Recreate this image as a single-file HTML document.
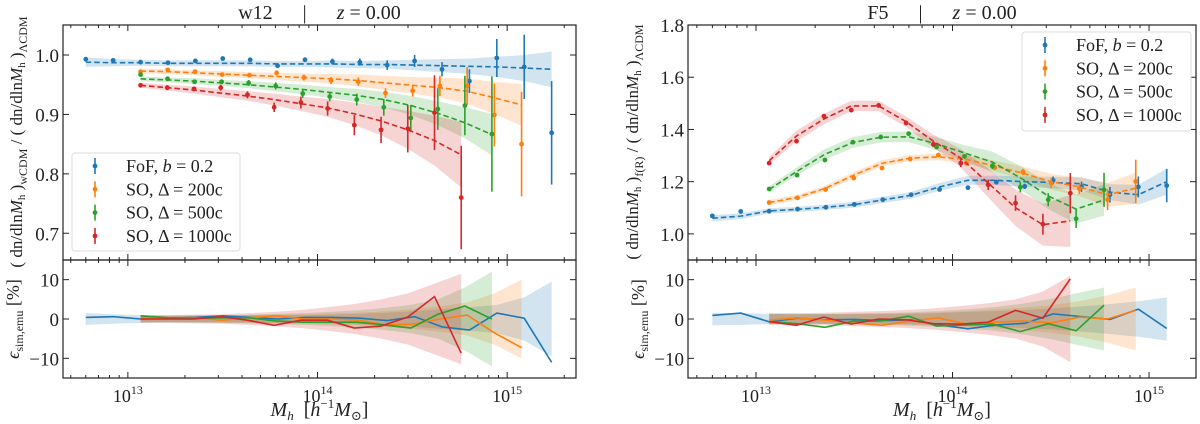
<!DOCTYPE html>
<html><head><meta charset="utf-8"><style>
html,body{margin:0;padding:0;background:#fff;}
svg{display:block;font-family:"Liberation Serif","DejaVu Serif",serif;}
</style></head><body>
<svg id="chart" width="1200" height="424" viewBox="0 0 1200 424" xmlns="http://www.w3.org/2000/svg"></svg>
<script>
// ---- shared mass bins (log10 M) ----
const binLog0 = 12.778;
const binStep = 0.1445;

// ---- w12 panel data ----
const w12_fof_start = 0;
const w12_fof_step = 0.1445;
const w12_fof_pts = [0.993,0.991,0.988,0.987,0.990,0.994,0.992,0.982,0.992,0.989,0.988,0.983,0.990,0.976,0.956,0.995,0.980,0.869];
const w12_fof_err = [0.003,0.003,0.003,0.003,0.003,0.003,0.003,0.004,0.004,0.005,0.006,0.008,0.010,0.012,0.020,0.032,0.054,0.087];
const w12_fof_emu = [0.988,0.987,0.987,0.986,0.986,0.986,0.986,0.985,0.985,0.985,0.984,0.984,0.983,0.982,0.981,0.980,0.978,0.976];
const w12_fof_band = [0.008,0.006,0.005,0.005,0.005,0.005,0.005,0.005,0.005,0.006,0.006,0.007,0.009,0.011,0.013,0.017,0.022,0.030];
const w12_fof_res = [0.4,0.6,0,0.2,0.4,0.8,0.4,0,0.4,0.4,0.2,-0.4,0.6,-2,-2.8,1.5,0.2,-11];
const w12_fof_resband = [1.5,1.2,1,0.9,0.9,0.9,0.9,1,1,1.1,1.3,1.6,2,2.5,3,3.6,5.5,9.5];

const w12_so200_start = 2;
const w12_so200_step = 0.1435;
const w12_so200_pts = [0.972,0.975,0.972,0.967,0.966,0.970,0.962,0.957,0.955,0.936,0.940,0.948,0.948,0.899,0.850];
const w12_so200_err = [0.003,0.003,0.003,0.003,0.003,0.004,0.005,0.006,0.007,0.008,0.010,0.017,0.032,0.053,0.088];
const w12_so200_emu = [0.973,0.972,0.970,0.968,0.966,0.964,0.962,0.960,0.957,0.953,0.949,0.945,0.939,0.928,0.916];
const w12_so200_band = [0.004,0.004,0.004,0.005,0.005,0.006,0.007,0.008,0.010,0.012,0.014,0.017,0.021,0.027,0.035];
const w12_so200_res = [0.3,0.3,0.3,-0.3,0.3,0.8,0,0,-0.3,-1.5,-1.3,0,1.0,-3.5,-7.3];
const w12_so200_resband = [0.8,0.8,0.8,0.9,1,1.1,1.2,1.4,1.6,2,2.5,3.2,4.2,6.5,10];

const w12_so500_start = 2;
const w12_so500_step = 0.1425;
const w12_so500_pts = [0.967,0.960,0.955,0.955,0.953,0.948,0.935,0.930,0.925,0.912,0.894,0.909,0.915,0.867];
const w12_so500_err = [0.003,0.003,0.003,0.004,0.005,0.006,0.007,0.008,0.010,0.014,0.022,0.035,0.050,0.097];
const w12_so500_emu = [0.960,0.958,0.956,0.953,0.950,0.946,0.942,0.937,0.932,0.925,0.915,0.902,0.886,0.866];
const w12_so500_band = [0.004,0.004,0.005,0.005,0.006,0.007,0.008,0.009,0.011,0.013,0.016,0.020,0.026,0.035];
const w12_so500_res = [0.8,0.3,0.2,0.3,0.3,-0.5,-0.8,-0.8,-0.8,-1.5,-2.3,1.2,3.3,0];
const w12_so500_resband = [0.8,0.8,0.9,1,1.1,1.3,1.5,1.8,2.2,2.8,3.6,5,8,12];

const w12_so1000_start = 2;
const w12_so1000_step = 0.1409;
const w12_so1000_pts = [0.949,0.945,0.943,0.945,0.933,0.912,0.920,0.910,0.882,0.874,0.876,0.903,0.760];
const w12_so1000_err = [0.003,0.004,0.004,0.005,0.006,0.008,0.010,0.012,0.017,0.022,0.040,0.063,0.087];
const w12_so1000_emu = [0.949,0.945,0.941,0.936,0.931,0.925,0.918,0.911,0.901,0.889,0.874,0.856,0.832];
const w12_so1000_band = [0.004,0.005,0.006,0.007,0.008,0.010,0.012,0.015,0.019,0.024,0.032,0.042,0.055];
const w12_so1000_res = [0,0,0,0.6,-0.3,-1.6,-0.3,-0.3,-2.3,-1.8,0.5,5.7,-8.7];
const w12_so1000_resband = [1,1,1.1,1.2,1.5,1.8,2.3,3,3.8,5,6.5,9,11.5];

// ---- F5 panel data ----
const f5_fof_start = 0;
const f5_fof_step = 0.1445;
const f5_fof_pts = [1.069,1.086,1.087,1.095,1.102,1.113,1.131,1.150,1.170,1.177,1.198,1.182,1.205,1.180,1.150,1.180,1.185];
const f5_fof_err = [0.005,0.005,0.005,0.005,0.005,0.005,0.006,0.006,0.007,0.008,0.009,0.010,0.015,0.020,0.030,0.040,0.064];
const f5_fof_emu = [1.060,1.068,1.088,1.094,1.102,1.112,1.130,1.148,1.180,1.205,1.205,1.200,1.197,1.192,1.160,1.150,1.200];
const f5_fof_band = [0.012,0.011,0.010,0.010,0.010,0.011,0.012,0.013,0.015,0.017,0.018,0.020,0.022,0.025,0.030,0.038,0.050];
const f5_fof_res = [0.9,1.5,-0.7,0.2,-0.2,-0.1,-0.4,-0.2,-1.5,-2.5,-1.5,-1.1,1.3,0.6,-0.1,2.5,-2.4];
const f5_fof_resband = [1.6,1.5,1.3,1.2,1.2,1.2,1.2,1.3,1.5,1.8,2,2.3,2.7,3.2,3.8,4.5,5.5];

const f5_so200_start = 2;
const f5_so200_step = 0.1435;
const f5_so200_pts = [1.120,1.138,1.170,1.214,1.252,1.287,1.302,1.270,1.254,1.237,1.195,1.173,1.131,1.201];
const f5_so200_err = [0.005,0.005,0.006,0.006,0.006,0.006,0.007,0.008,0.010,0.012,0.020,0.020,0.040,0.083];
const f5_so200_emu = [1.120,1.140,1.175,1.225,1.270,1.290,1.295,1.285,1.260,1.232,1.200,1.180,1.150,1.175];
const f5_so200_band = [0.010,0.010,0.010,0.012,0.012,0.012,0.013,0.015,0.020,0.025,0.030,0.035,0.045,0.060];
const f5_so200_res = [-0.3,0.3,-0.3,-1,-1.6,-0.5,0.3,-1.3,-0.8,-0.5,-1.0,0.5,0,2.2];
const f5_so200_resband = [1.2,1.2,1.2,1.3,1.4,1.5,1.7,2,2.4,2.9,3.5,4.5,6,8];

const f5_so500_start = 2;
const f5_so500_step = 0.142;
const f5_so500_pts = [1.172,1.225,1.283,1.351,1.371,1.384,1.333,1.297,1.260,1.179,1.131,1.058,1.169];
const f5_so500_err = [0.005,0.005,0.006,0.006,0.006,0.007,0.008,0.009,0.012,0.020,0.025,0.035,0.065];
const f5_so500_emu = [1.170,1.240,1.305,1.350,1.370,1.372,1.345,1.310,1.275,1.215,1.145,1.095,1.130];
const f5_so500_band = [0.012,0.015,0.020,0.020,0.020,0.020,0.025,0.030,0.040,0.045,0.050,0.055,0.060];
const f5_so500_res = [-0.7,-1.2,-2.1,-0.6,-0.5,0.7,-1.8,-1.5,-1.3,-3.2,-1.2,-3,3.5];
const f5_so500_resband = [1.3,1.3,1.3,1.4,1.5,1.7,2,2.4,3,3.8,5,6.5,8];

const f5_so1000_start = 2;
const f5_so1000_step = 0.1393;
const f5_so1000_pts = [1.271,1.355,1.451,1.474,1.492,1.425,1.343,1.271,1.188,1.118,1.037,1.156];
const f5_so1000_err = [0.005,0.006,0.006,0.006,0.007,0.008,0.010,0.015,0.020,0.030,0.040,0.077];
const f5_so1000_emu = [1.280,1.375,1.440,1.490,1.490,1.430,1.355,1.290,1.195,1.100,1.035,1.050];
const f5_so1000_band = [0.015,0.020,0.020,0.020,0.020,0.020,0.025,0.035,0.055,0.070,0.080,0.100];
const f5_so1000_res = [-0.7,-1.6,0.5,-1.3,0,-0.2,-1.2,-1.3,-0.8,2.2,0.2,10.2];
const f5_so1000_resband = [1.5,1.5,1.6,1.8,2,2.3,2.7,3.3,4,5,7,11];

const w12_yticks = [0.7,0.8,0.9,1.0];
const f5_yticks = [1.0,1.2,1.4,1.6,1.8];
const res_yticks = [-10,0,10];
const x_decades = [13,14,15];
const legend_labels = ["FoF, ", "SO, Δ = 200c", "SO, Δ = 500c", "SO, Δ = 1000c"];

const COLORS = ["#1f77b4","#ff7f0e","#2ca02c","#d62728"];
const NS = "http://www.w3.org/2000/svg";
const svg = document.getElementById("chart");

function mk(tag, attrs, parent){
  const e = document.createElementNS(NS, tag);
  for (const k in attrs) e.setAttribute(k, attrs[k]);
  (parent||svg).appendChild(e);
  return e;
}

function drawPanel(cfg){
  const g = mk("g", {});
  
  
  const xs = lg => cfg.x0 + (lg - cfg.lmin) / (cfg.lmax - cfg.lmin) * (cfg.x1 - cfg.x0);
  const ys = v => cfg.ySplit - (v - cfg.vmin) / (cfg.vmax - cfg.vmin) * (cfg.ySplit - cfg.yTop);
  const yr = v => cfg.yBot - (v + 15) / 30 * (cfg.yBot - cfg.ySplit);
  const sx = (s, k) => xs(binLog0 + binStep * s.start + s.step * k);

  const defs = mk("defs", {}, g);
  const cpT = mk("clipPath", {id: cfg.name+"-clipT"}, defs);
  mk("rect", {x: cfg.x0, y: cfg.yTop, width: cfg.x1-cfg.x0, height: cfg.ySplit-cfg.yTop}, cpT);
  const cpB = mk("clipPath", {id: cfg.name+"-clipB"}, defs);
  mk("rect", {x: cfg.x0, y: cfg.ySplit, width: cfg.x1-cfg.x0, height: cfg.yBot-cfg.ySplit}, cpB);
  const top = mk("g", {"clip-path": "url(#"+cfg.name+"-clipT)"}, g);
  const bot = mk("g", {"clip-path": "url(#"+cfg.name+"-clipB)"}, g);

  cfg.series.forEach((s, si) => {
    const c = COLORS[si];
    let up = [], dn = [];
    s.emu.forEach((v, k) => { const x = sx(s,k); up.push(x+","+ys(v + s.band[k])); dn.unshift(x+","+ys(v - s.band[k])); });
    const band = mk("polygon", {points: up.concat(dn).join(" "), fill: c, "fill-opacity": 0.2, stroke: "none"}, top);
    
    
    let ru = [], rd = [];
    s.resband.forEach((v, k) => { const x = sx(s,k); ru.push(x+","+yr(v)); rd.unshift(x+","+yr(-v)); });
    const rb = mk("polygon", {points: ru.concat(rd).join(" "), fill: c, "fill-opacity": 0.2, stroke: "none"}, bot);
    
    
  });
  cfg.series.forEach((s, si) => {
    const c = COLORS[si];
    const line = mk("polyline", {points: s.emu.map((v,k)=>sx(s,k)+","+ys(v)).join(" "), fill: "none", stroke: c, "stroke-width": 1.6, "stroke-dasharray": "5.5,3"}, top);
    
    
    s.pts.forEach((v, k) => {
      const x = sx(s,k);
      const eb = mk("line", {x1: x, x2: x, y1: ys(v - s.err[k]), y2: ys(v + s.err[k]), stroke: c, "stroke-width": 1.6}, top);
      
      
      const pt = mk("circle", {cx: x, cy: ys(v), r: 2.4, fill: c}, top);
      
      
    });
    const rl = mk("polyline", {points: s.res.map((v,k)=>sx(s,k)+","+yr(v)).join(" "), fill: "none", stroke: c, "stroke-width": 1.6}, bot);
    
    
  });

  const f1 = mk("rect", {x: cfg.x0, y: cfg.yTop, width: cfg.x1-cfg.x0, height: cfg.ySplit-cfg.yTop, fill: "none", stroke: "#222", "stroke-width": 1.2}, g);
  
  
  const f2 = mk("rect", {x: cfg.x0, y: cfg.ySplit, width: cfg.x1-cfg.x0, height: cfg.yBot-cfg.ySplit, fill: "none", stroke: "#222", "stroke-width": 1.2}, g);
  
  

  const edges = [cfg.yTop, cfg.ySplit, cfg.ySplit, cfg.yBot];
  const dirs = [1, -1, 1, -1];
  for (let d = 12; d <= 15; d++) {
    for (let m = 1; m <= 9; m++) {
      const lg = d + Math.log10(m);
      if (lg < cfg.lmin || lg > cfg.lmax) continue;
      const x = xs(lg);
      const len = m === 1 ? 6 : 3;
      edges.forEach((ey, ei) => mk("line", {x1: x, x2: x, y1: ey, y2: ey + dirs[ei]*len, stroke: "#222", "stroke-width": 1}, g));
    }
  }
  x_decades.forEach(d => {
    const x = xs(d);
    const t = mk("text", {x: x, y: cfg.yBot + 24, "text-anchor": "middle", "font-size": 18, fill: "#222"}, g);
    
    
    t.textContent = "10";
    const sup = mk("tspan", {dy: -8, "font-size": 12}, t);
    sup.textContent = String(d);
  });
  cfg.yticks.forEach(v => {
    const y = ys(v);
    mk("line", {x1: cfg.x0, x2: cfg.x0+6, y1: y, y2: y, stroke: "#222", "stroke-width": 1}, g);
    mk("line", {x1: cfg.x1, x2: cfg.x1-6, y1: y, y2: y, stroke: "#222", "stroke-width": 1}, g);
    const t = mk("text", {x: cfg.x0 - 4, y: y + 7, "text-anchor": "end", "font-size": 19, fill: "#222"}, g);
    
    
    t.textContent = v.toFixed(1);
  });
  res_yticks.forEach(v => {
    const y = yr(v);
    mk("line", {x1: cfg.x0, x2: cfg.x0+6, y1: y, y2: y, stroke: "#222", "stroke-width": 1}, g);
    mk("line", {x1: cfg.x1, x2: cfg.x1-6, y1: y, y2: y, stroke: "#222", "stroke-width": 1}, g);
    const t = mk("text", {x: cfg.x0 - 4, y: y + 7, "text-anchor": "end", "font-size": 19, fill: "#222"}, g);
    
    
    t.textContent = v < 0 ? "\u2212" + Math.abs(v) : String(v);
  });

  const tt = mk("text", {x: (cfg.x0+cfg.x1)/2, y: 19, "text-anchor": "middle", "font-size": 20, fill: "#222"}, g);
  
  
  tt.innerHTML = cfg.title + '\u2003\u2002|\u2003\u2002<tspan font-style="italic">z</tspan> = 0.00';

  const xl = mk("text", {x: (cfg.x0+cfg.x1)/2, y: 416, "text-anchor": "middle", "font-size": 20, fill: "#222"}, g);
  
  
  xl.innerHTML = '<tspan font-style="italic">M</tspan><tspan font-style="italic" font-size="13" dy="4">h</tspan><tspan dy="-4">\u2002[</tspan><tspan font-style="italic">h</tspan><tspan font-size="13" dy="-8">\u22121</tspan><tspan font-style="italic" dy="8">M</tspan><tspan font-size="13" dy="4">\u2299</tspan><tspan dy="-4">]</tspan>';

  const yl = mk("text", {x: 0, y: 0, "text-anchor": "middle", "font-size": 17, fill: "#222", transform: "translate(" + cfg.ylx + ",142) rotate(-90)"}, g);
  
  
  yl.innerHTML = '( dn/dln<tspan font-style="italic">M</tspan><tspan font-size="11" dy="3">h</tspan><tspan dy="-3"> )</tspan><tspan font-size="12" dy="5">' + cfg.sub + '</tspan><tspan dy="-5"> / ( dn/dln</tspan><tspan font-style="italic">M</tspan><tspan font-size="11" dy="3">h</tspan><tspan dy="-3"> )</tspan><tspan font-size="12" dy="5">\u039BCDM</tspan>';
  const rl = mk("text", {x: 0, y: 0, "text-anchor": "middle", "font-size": 18, fill: "#222", transform: "translate(" + cfg.rlx + ",319) rotate(-90)"}, g);
  
  
  rl.innerHTML = '<tspan font-style="italic">\u03F5</tspan><tspan font-size="12" dy="4">sim,emu</tspan><tspan dy="-4"> [%]</tspan>';

  const L = cfg.legend;
  const lb = mk("rect", {x: L.x, y: L.y, width: L.w, height: L.h, rx: 3, fill: "#fff", "fill-opacity": 0.8, stroke: "#ddd", "stroke-width": 1}, g);
  
  
  legend_labels.forEach((lab, i) => {
    const y = L.y + 13 + i * 23.3;
    const c = COLORS[i];
    mk("line", {x1: L.mx, x2: L.mx, y1: y - 8, y2: y + 8, stroke: c, "stroke-width": 1.6}, g);
    mk("circle", {cx: L.mx, cy: y, r: 2.4, fill: c}, g);
    const t = mk("text", {x: L.tx, y: y + 6, "font-size": 18, fill: "#222"}, g);
    
    
    if (i === 0) t.innerHTML = 'FoF, <tspan font-style="italic">b</tspan> = 0.2';
    else t.textContent = lab;
  });
}

drawPanel({
  name: "w12", title: "w12", sub: "wCDM",
  x0: 63, x1: 576, lmin: 12.658, lmax: 15.363,
  yTop: 25, ySplit: 260, yBot: 378, vmin: 0.655, vmax: 1.0505,
  yticks: w12_yticks, ylx: 22, rlx: 19,
  legend: {x: 72, y: 153, w: 168, h: 98, mx: 95, tx: 126},
  series: [
    {key:"fof", start:w12_fof_start, step:w12_fof_step, pts:w12_fof_pts, err:w12_fof_err, emu:w12_fof_emu, band:w12_fof_band, res:w12_fof_res, resband:w12_fof_resband},
    {key:"so200", start:w12_so200_start, step:w12_so200_step, pts:w12_so200_pts, err:w12_so200_err, emu:w12_so200_emu, band:w12_so200_band, res:w12_so200_res, resband:w12_so200_resband},
    {key:"so500", start:w12_so500_start, step:w12_so500_step, pts:w12_so500_pts, err:w12_so500_err, emu:w12_so500_emu, band:w12_so500_band, res:w12_so500_res, resband:w12_so500_resband},
    {key:"so1000", start:w12_so1000_start, step:w12_so1000_step, pts:w12_so1000_pts, err:w12_so1000_err, emu:w12_so1000_emu, band:w12_so1000_band, res:w12_so1000_res, resband:w12_so1000_resband}
  ]
});
drawPanel({
  name: "f5", title: "F5", sub: "f(R)",
  x0: 688, x1: 1196, lmin: 12.654, lmax: 15.239,
  yTop: 25, ySplit: 260, yBot: 378, vmin: 0.9, vmax: 1.8,
  yticks: f5_yticks, ylx: 638, rlx: 644,
  legend: {x: 1022, y: 32, w: 169, h: 99, mx: 1045, tx: 1076},
  series: [
    {key:"fof", start:f5_fof_start, step:f5_fof_step, pts:f5_fof_pts, err:f5_fof_err, emu:f5_fof_emu, band:f5_fof_band, res:f5_fof_res, resband:f5_fof_resband},
    {key:"so200", start:f5_so200_start, step:f5_so200_step, pts:f5_so200_pts, err:f5_so200_err, emu:f5_so200_emu, band:f5_so200_band, res:f5_so200_res, resband:f5_so200_resband},
    {key:"so500", start:f5_so500_start, step:f5_so500_step, pts:f5_so500_pts, err:f5_so500_err, emu:f5_so500_emu, band:f5_so500_band, res:f5_so500_res, resband:f5_so500_resband},
    {key:"so1000", start:f5_so1000_start, step:f5_so1000_step, pts:f5_so1000_pts, err:f5_so1000_err, emu:f5_so1000_emu, band:f5_so1000_band, res:f5_so1000_res, resband:f5_so1000_resband}
  ]
});
</script>
</body></html>
